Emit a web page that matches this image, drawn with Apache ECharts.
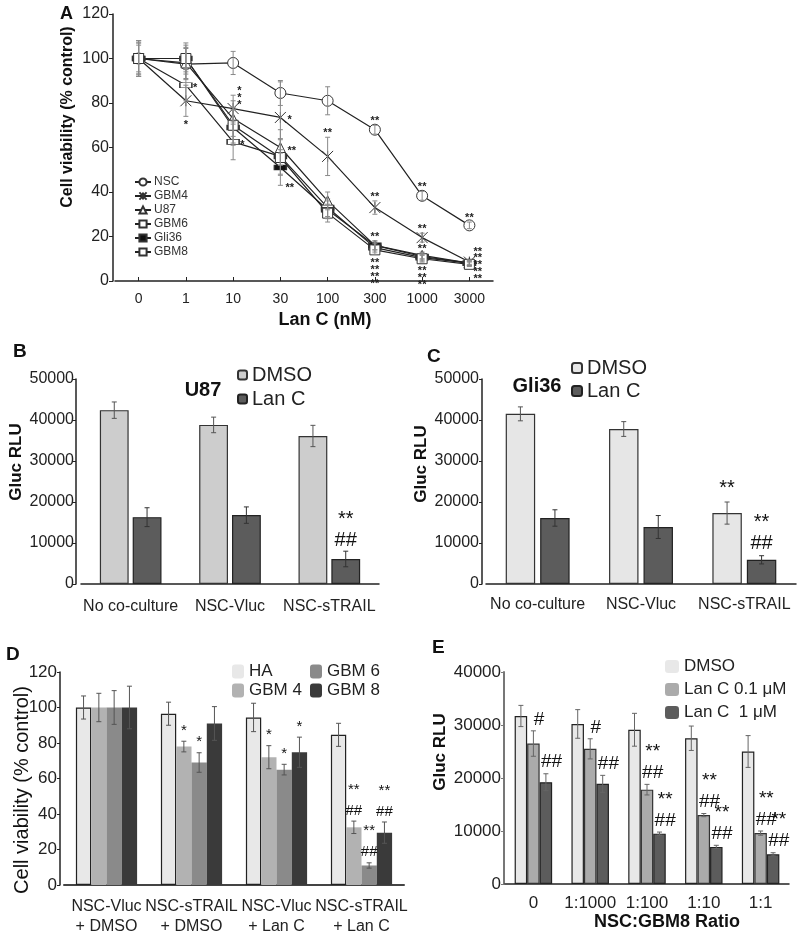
<!DOCTYPE html>
<html><head><meta charset="utf-8">
<script src="https://cdn.jsdelivr.net/npm/echarts@6/dist/echarts.min.js"></script>
<style>html,body{margin:0;padding:0;background:#fff}#c{width:800px;height:937px}</style>
</head><body><div id="c"></div>
<script>
// ---------- Panel A data ----------
const doseCats = ['0','1','10','30','100','300','1000','3000'];
const cellLines = ['NSC','GBM4','U87','GBM6','Gli36','GBM8'];
const vNSC  = [100, 97.5, 98, 84.5, 81, 68, 38.3, 25];
const vGBM4 = [100, 81, 77.5, 73.5, 56, 33, 19.5, 8.5];
const vU87  = [100, 98, 73, 60, 36, 16, 11.5, 8];
const vGBM6 = [100, 88, 62.5, 56, 33, 15, 10.5, 8];
const vGli36= [100, 100, 69, 51, 32, 16, 11, 8];
const vGBM8 = [100, 100, 70, 55.5, 30.5, 14, 10, 7.5];
const eNSC  = [7, 7, 5.2, 5.6, 6.3, 2, 2, 1.5];
const eGBM4 = [7, 7, 6, 16, 8.6, 3, 2, 1];
const eU87  = [8, 7, 8, 8, 4, 2, 1.5, 1];
const eGBM6 = [8, 7, 8, 8, 4, 2, 1.5, 1];
const eGli36= [6, 6, 8, 8, 4, 2, 1.5, 1];
const eGBM8 = [8, 7, 8, 8, 4, 2, 1.5, 1];
// annotations: [series, dose, text, placement]
const annA = [
  ['GBM6','1','*','right'], ['GBM4','1','*','bottom'],
  ['GBM4','10','*\n*\n*','topRight'], ['GBM6','10','*','right'],
  ['GBM4','30','*','right'], ['U87','30','**','right'], ['Gli36','30','**','bottomRight'],
  ['GBM4','100','**','top'],
  ['NSC','300','**','top'], ['GBM4','300','**','top'], ['Gli36','300','**','top'], ['GBM8','300','**\n**\n**\n**','bottom'],
  ['NSC','1000','**','top'], ['GBM4','1000','**','top'], ['Gli36','1000','**','top'], ['GBM8','1000','**\n**\n**','bottom'],
  ['NSC','3000','**','top'], ['GBM8','3000','**\n**\n**\n**\n**','topRight']
];

// ---------- Panel B (U87) ----------
const bcCats = ['No co-culture','NSC-Vluc','NSC-sTRAIL'];
const bDMSO = [42400, 38800, 36100];
const bDMSOerr = [2000, 1900, 2600];
const bLanC = [16300, 16800, 6100];
const bLanCerr = [2300, 2000, 1900];
const bAnnDMSO = ['', '', ''];
const bAnnLanC = ['', '', '**\n##'];

// ---------- Panel C (Gli36) ----------
const cDMSO = [41500, 37800, 17300];
const cDMSOerr = [1700, 1800, 2700];
const cLanC = [16100, 13900, 5900];
const cLanCerr = [2000, 2800, 1000];
const cAnnDMSO = ['', '', '**'];
const cAnnLanC = ['', '', '**\n##'];

// ---------- Panel D ----------
const dCats = ['NSC-Vluc\n+ DMSO','NSC-sTRAIL\n+ DMSO','NSC-Vluc\n+ Lan C','NSC-sTRAIL\n+ Lan C'];
const dHA   = [100, 96.5, 94.4, 84.6];
const dGBM4 = [100, 78, 72, 32.5];
const dGBM6 = [100, 69, 65, 11];
const dGBM8 = [100, 91, 74.8, 29.5];
const dHAerr   = [6.5, 6.5, 8, 6.5];
const dGBM4err = [8, 3, 6.5, 3.5];
const dGBM6err = [9.5, 5.5, 3, 1.5];
const dGBM8err = [12, 9.5, 8.5, 6];
const dAnnGBM4 = ['', '*', '*', '**\n##'];
const dAnnGBM6 = ['', '*', '*', '**\n##'];
const dAnnGBM8 = ['', '', '*', '**\n##'];

// ---------- Panel E ----------
const eCats = ['0','1:1000','1:100','1:10','1:1'];
const eDMSO = [31700, 30200, 29100, 27500, 25000];
const eLow  = [26500, 25500, 17800, 13000, 9600];
const eHigh = [19200, 18900, 9500, 7000, 5600];
const eDMSOerr = [2000, 2700, 3100, 2300, 3000];
const eLowErr  = [2400, 1900, 1000, 300, 400];
const eHighErr = [1600, 1600, 300, 300, 300];
const eAnnLow  = ['#', '#', '**\n##', '**\n##', '**\n##'];
const eAnnHigh = ['##', '##', '**\n##', '**\n##', '**\n##'];

// ---------- helpers ----------
const FF = 'Arial, "Liberation Sans", Helvetica, sans-serif';
function errSeries(ax, vals, errs, off, color, lw, cap) {
  return {
    type: 'custom', xAxisIndex: ax, yAxisIndex: ax, silent: true, z: 6,
    data: vals.map((v, i) => [i, v, errs[i]]),
    renderItem(params, api) {
      const i = api.value(0), v = api.value(1), e = api.value(2);
      const band = api.size([1, 0])[0];
      const p1 = api.coord([i, v + e]), p2 = api.coord([i, v - e]);
      const x = p1[0] + off * band;
      const st = { stroke: color, lineWidth: lw };
      return { type: 'group', children: [
        { type: 'line', shape: { x1: x, y1: p1[1], x2: x, y2: p2[1] }, style: st },
        { type: 'line', shape: { x1: x - cap, y1: p1[1], x2: x + cap, y2: p1[1] }, style: st },
        { type: 'line', shape: { x1: x - cap, y1: p2[1], x2: x + cap, y2: p2[1] }, style: st }
      ]};
    }
  };
}
function barAnn(ax, vals, errs, texts, off, font, gap, pad) {
  return {
    type: 'custom', xAxisIndex: ax, yAxisIndex: ax, silent: true, z: 10,
    data: vals.map((v, i) => [i, v + errs[i], i]),
    renderItem(params, api) {
      const t = texts[api.value(2)];
      if (!t) return;
      const band = api.size([1, 0])[0];
      const p = api.coord([api.value(0), api.value(1)]);
      const x = p[0] + off * band;
      const lines = t.split('\n');
      return { type: 'group', children: lines.map((ln, k) => ({
        type: 'text',
        style: { text: ln, x: x, y: p[1] - pad - (lines.length - 1 - k) * gap,
          align: 'center', verticalAlign: 'bottom', font: font, fill: '#111' }
      }))};
    }
  };
}
const seriesVals = { NSC: vNSC, GBM4: vGBM4, U87: vU87, GBM6: vGBM6, Gli36: vGli36, GBM8: vGBM8 };
const seriesErrs = { NSC: eNSC, GBM4: eGBM4, U87: eU87, GBM6: eGBM6, Gli36: eGli36, GBM8: eGBM8 };
const annASeries = {
  type: 'custom', xAxisIndex: 0, yAxisIndex: 0, silent: true, z: 10,
  data: annA.map((a, k) => {
    const ci = doseCats.indexOf(a[1]);
    return [ci, seriesVals[a[0]][ci], seriesErrs[a[0]][ci], k];
  }),
  renderItem(params, api) {
    const a = annA[api.value(3)];
    const ci = api.value(0), v = api.value(1), e = api.value(2);
    const p = api.coord([ci, v]);
    const pt = api.coord([ci, v + e]);
    const pb = api.coord([ci, v - e]);
    const lines = a[2].split('\n');
    const step = 6.8;
    let x = p[0], y0, align = 'center';
    if (a[3] === 'top') { y0 = pt[1] - 4 - (lines.length - 1) * step; }
    else if (a[3] === 'bottom') { y0 = pb[1] + 9; }
    else if (a[3] === 'right') { x = p[0] + 7; align = 'left'; y0 = p[1] + 3 - (lines.length - 1) * step / 2; }
    else if (a[3] === 'topRight') { x = p[0] + 4; align = 'left'; y0 = pt[1] + 3 - (lines.length - 1) * step / 2; }
    else if (a[3] === 'bottomRight') { x = p[0] + 5; align = 'left'; y0 = pb[1] + 3; }
    return { type: 'group', children: lines.map((ln, k) => ({
      type: 'text',
      style: { text: ln, x: x, y: y0 + k * step, align: align, verticalAlign: 'middle',
        font: 'bold 11px ' + FF, fill: '#222' }
    }))};
  }
};
const symA = {
  NSC: { symbol: 'circle', size: 11, fill: '#fff' },
  GBM4: { symbol: 'path://M0,0L10,10M10,0L0,10M5,0L5,10', size: 11, fill: '#fff' },
  U87: { symbol: 'triangle', size: 10, fill: '#fff' },
  GBM6: { symbol: 'rect', size: [12, 5], fill: '#fff' },
  Gli36: { symbol: 'rect', size: [12, 5], fill: '#111' },
  GBM8: { symbol: 'rect', size: 10, fill: '#fff' }
};

const series = [];
// Panel A error bars then lines
cellLines.forEach(n => series.push(errSeries(0, seriesVals[n], seriesErrs[n], 0, '#8a8a8a', 1, 2.5)));
cellLines.forEach(n => series.push({
  type: 'line', name: n, xAxisIndex: 0, yAxisIndex: 0, data: seriesVals[n],
  symbol: symA[n].symbol, symbolSize: symA[n].size, showSymbol: true, symbolKeepAspect: false,
  lineStyle: { color: '#222', width: 1.2 },
  itemStyle: { color: symA[n].fill, borderColor: '#333', borderWidth: 1 },
  z: 4, animation: false
}));
series.push(annASeries);

// Panel B
const bW = '29%', bGap = '14%';
series.push({ type: 'bar', name: 'DMSO', xAxisIndex: 1, yAxisIndex: 1, data: bDMSO, barWidth: bW, barGap: bGap,
  itemStyle: { color: '#cdcdcd', borderColor: '#333', borderWidth: 1.2 } });
series.push({ type: 'bar', name: 'Lan C', xAxisIndex: 1, yAxisIndex: 1, data: bLanC, barWidth: bW, barGap: bGap,
  itemStyle: { color: '#5c5c5c', borderColor: '#222', borderWidth: 1.2 } });
series.push(errSeries(1, bDMSO, bDMSOerr, -0.165, '#555', 1, 2.5));
series.push(errSeries(1, bLanC, bLanCerr, 0.165, '#333', 1, 2.5));
series.push(barAnn(1, bDMSO, bDMSOerr, bAnnDMSO, -0.165, '20px ' + FF, 22, 1));
series.push(barAnn(1, bLanC, bLanCerr, bAnnLanC, 0.165, '20px ' + FF, 21, 1));

// Panel C
const cW = '28.5%', cGap = '17%';
series.push({ type: 'bar', name: 'C_DMSO', xAxisIndex: 2, yAxisIndex: 2, data: cDMSO, barWidth: cW, barGap: cGap,
  itemStyle: { color: '#e6e6e6', borderColor: '#333', borderWidth: 1.2 } });
series.push({ type: 'bar', name: 'C_Lan C', xAxisIndex: 2, yAxisIndex: 2, data: cLanC, barWidth: cW, barGap: cGap,
  itemStyle: { color: '#5c5c5c', borderColor: '#222', borderWidth: 1.2 } });
series.push(errSeries(2, cDMSO, cDMSOerr, -0.167, '#555', 1, 2.5));
series.push(errSeries(2, cLanC, cLanCerr, 0.167, '#333', 1, 2.5));
series.push(barAnn(2, cDMSO, cDMSOerr, cAnnDMSO, -0.167, '20px ' + FF, 22, 4));
series.push(barAnn(2, cLanC, cLanCerr, cAnnLanC, 0.167, '20px ' + FF, 21, 2));

// Panel D
const dW = '18%';
const dSer = [['HA', dHA, dHAerr, '#e8e8e8', '#222', 1.2, null],
              ['GBM 4', dGBM4, dGBM4err, '#b2b2b2', '#b2b2b2', 0, dAnnGBM4],
              ['GBM 6', dGBM6, dGBM6err, '#8a8a8a', '#8a8a8a', 0, dAnnGBM6],
              ['GBM 8', dGBM8, dGBM8err, '#3a3a3a', '#3a3a3a', 0, dAnnGBM8]];
dSer.forEach((s, k) => {
  const off = (k - 1.5) * 0.18;
  series.push({ type: 'bar', name: s[0], xAxisIndex: 3, yAxisIndex: 3, data: s[1], barWidth: dW, barGap: '0%',
    itemStyle: { color: s[3], borderColor: s[4], borderWidth: s[5] } });
  series.push(errSeries(3, s[1], s[2], off, '#555', 1, 2.5));
  if (s[6]) series.push(barAnn(3, s[1], s[2], s[6], off, '15px ' + FF, 21, 3));
});

// Panel E
const eW = '22%';
const eSer = [['E_DMSO', eDMSO, eDMSOerr, '#e8e8e8', '#222', null],
              ['E_Lan C 0.1 μM', eLow, eLowErr, '#ababab', '#333', eAnnLow],
              ['E_Lan C  1 μM', eHigh, eHighErr, '#5c5c5c', '#222', eAnnHigh]];
eSer.forEach((s, k) => {
  const off = (k - 1) * 0.22;
  series.push({ type: 'bar', name: s[0], xAxisIndex: 4, yAxisIndex: 4, data: s[1], barWidth: eW, barGap: '0%',
    itemStyle: { color: s[3], borderColor: s[4], borderWidth: 1.2 } });
  series.push(errSeries(4, s[1], s[2], off, '#666', 1, 2.5));
  if (s[5]) series.push(barAnn(4, s[1], s[2], s[5], off + 0.1, '19px ' + FF, 21, 2));
});

const axLine = (w, c) => ({ show: true, lineStyle: { color: c || '#222', width: w } });
const plain = v => String(v);
const lbl = (fs, m, extra) => Object.assign({ fontSize: fs, color: '#222', margin: m, fontFamily: FF }, extra || {});
const stripName = n => n.replace(/^[A-Z]_/, '');

const option = {
  animation: false,
  textStyle: { fontFamily: FF },
  grid: [
    { left: 115, top: 14, width: 378, height: 267 },
    { left: 81, top: 379, width: 298, height: 205 },
    { left: 486, top: 379, width: 310, height: 205 },
    { left: 64, top: 672, width: 340, height: 213 },
    { left: 505, top: 672, width: 284, height: 212 }
  ],
  xAxis: [
    { gridIndex: 0, type: 'category', data: doseCats, offset: 3, axisLine: axLine(1.5),
      axisTick: { show: true, inside: true, alignWithLabel: true, length: 4, lineStyle: { color: '#222' } },
      axisLabel: lbl(14, 8, { interval: 0 }) },
    { gridIndex: 1, type: 'category', data: bcCats, offset: 5, axisLine: axLine(1.5), axisTick: { show: false },
      axisLabel: lbl(16, 10, { interval: 0 }) },
    { gridIndex: 2, type: 'category', data: bcCats, offset: 7, axisLine: axLine(1.5), axisTick: { show: false },
      axisLabel: lbl(16, 6, { interval: 0 }) },
    { gridIndex: 3, type: 'category', data: dCats, offset: 3, axisLine: axLine(2, '#444'), axisTick: { show: false },
      axisLabel: lbl(16, 9, { interval: 0, lineHeight: 20 }) },
    { gridIndex: 4, type: 'category', data: eCats, offset: 3, axisLine: axLine(1.5), axisTick: { show: false },
      axisLabel: lbl(17, 8, { interval: 0 }) }
  ],
  yAxis: [
    { gridIndex: 0, type: 'value', min: 0, max: 120, interval: 20, offset: 2, axisLine: axLine(1.5),
      axisTick: { show: true, length: 4, lineStyle: { color: '#222' } }, splitLine: { show: false },
      axisLabel: lbl(16, 4, { formatter: plain }) },
    { gridIndex: 1, type: 'value', min: 0, max: 50000, interval: 10000, offset: 5, axisLine: axLine(1.5),
      axisTick: { show: true, length: 3, lineStyle: { color: '#222' } }, splitLine: { show: false },
      axisLabel: lbl(16, 2, { formatter: plain }) },
    { gridIndex: 2, type: 'value', min: 0, max: 50000, interval: 10000, offset: 4, axisLine: axLine(1.5),
      axisTick: { show: true, length: 3, lineStyle: { color: '#222' } }, splitLine: { show: false },
      axisLabel: lbl(16, 3, { formatter: plain }) },
    { gridIndex: 3, type: 'value', min: 0, max: 120, interval: 20, offset: 4, axisLine: axLine(1.5),
      axisTick: { show: true, length: 3, lineStyle: { color: '#222' } }, splitLine: { show: false },
      axisLabel: lbl(17, 3, { formatter: plain }) },
    { gridIndex: 4, type: 'value', min: 0, max: 40000, interval: 10000, offset: 1, axisLine: axLine(2, '#777'),
      axisTick: { show: true, length: 3, lineStyle: { color: '#777' } }, splitLine: { show: false },
      axisLabel: lbl(17, 3, { formatter: plain }) }
  ],
  legend: [
    { data: cellLines, left: 134, top: 176, orient: 'vertical', itemWidth: 16, itemHeight: 9, itemGap: 2,
      selectedMode: false, padding: 0, textStyle: { fontSize: 12, color: '#333', padding: [0, 0, 0, -2] } },
    { data: ['DMSO', 'Lan C'], left: 237, top: 365, orient: 'vertical', itemWidth: 9, itemHeight: 9, itemGap: 4,
      selectedMode: false, padding: 0, textStyle: { fontSize: 20, color: '#222' } },
    { data: ['C_DMSO', 'C_Lan C'], left: 571, top: 358, orient: 'vertical', itemWidth: 10, itemHeight: 10, itemGap: 3,
      selectedMode: false, padding: 0, formatter: stripName, textStyle: { fontSize: 20, color: '#222' } },
    { data: ['HA', 'GBM 4'], left: 232, top: 663, orient: 'vertical', itemWidth: 12, itemHeight: 14, itemGap: 2,
      selectedMode: false, padding: 0, itemStyle: { borderWidth: 0 }, textStyle: { fontSize: 17, color: '#222' } },
    { data: ['GBM 6', 'GBM 8'], left: 310, top: 663, orient: 'vertical', itemWidth: 12, itemHeight: 14, itemGap: 2,
      selectedMode: false, padding: 0, itemStyle: { borderWidth: 0 }, textStyle: { fontSize: 17, color: '#222' } },
    { data: ['E_DMSO', 'E_Lan C 0.1 μM', 'E_Lan C  1 μM'], left: 665, top: 658, orient: 'vertical',
      itemWidth: 14, itemHeight: 13, itemGap: 6, selectedMode: false, padding: 0, formatter: stripName,
      itemStyle: { borderWidth: 0 }, textStyle: { fontSize: 17, color: '#222' } }
  ],
  graphic: [
    { type: 'text', x: 60, y: 14, style: { text: 'A', font: 'bold 18px ' + FF, fill: '#111', verticalAlign: 'middle' } },
    { type: 'text', x: 13, y: 352, style: { text: 'B', font: 'bold 19px ' + FF, fill: '#111', verticalAlign: 'middle' } },
    { type: 'text', x: 427, y: 357, style: { text: 'C', font: 'bold 19px ' + FF, fill: '#111', verticalAlign: 'middle' } },
    { type: 'text', x: 6, y: 655, style: { text: 'D', font: 'bold 19px ' + FF, fill: '#111', verticalAlign: 'middle' } },
    { type: 'text', x: 432, y: 648, style: { text: 'E', font: 'bold 19px ' + FF, fill: '#111', verticalAlign: 'middle' } },
    { type: 'text', x: 68, y: 117, rotation: Math.PI / 2,
      style: { text: 'Cell viability (% control)', font: 'bold 16px ' + FF, fill: '#111', align: 'center', verticalAlign: 'middle' } },
    { type: 'text', x: 325, y: 320,
      style: { text: 'Lan C (nM)', font: 'bold 18px ' + FF, fill: '#111', align: 'center', verticalAlign: 'middle' } },
    { type: 'text', x: 16, y: 462, rotation: Math.PI / 2,
      style: { text: 'Gluc RLU', font: 'bold 17px ' + FF, fill: '#111', align: 'center', verticalAlign: 'middle' } },
    { type: 'text', x: 421, y: 464, rotation: Math.PI / 2,
      style: { text: 'Gluc RLU', font: 'bold 17px ' + FF, fill: '#111', align: 'center', verticalAlign: 'middle' } },
    { type: 'text', x: 22, y: 790, rotation: Math.PI / 2,
      style: { text: 'Cell viability (% control)', font: '20px ' + FF, fill: '#111', align: 'center', verticalAlign: 'middle' } },
    { type: 'text', x: 440, y: 752, rotation: Math.PI / 2,
      style: { text: 'Gluc RLU', font: 'bold 17px ' + FF, fill: '#111', align: 'center', verticalAlign: 'middle' } },
    { type: 'text', x: 667, y: 922,
      style: { text: 'NSC:GBM8 Ratio', font: 'bold 18px ' + FF, fill: '#111', align: 'center', verticalAlign: 'middle' } },
    { type: 'text', x: 203, y: 390,
      style: { text: 'U87', font: 'bold 20px ' + FF, fill: '#111', align: 'center', verticalAlign: 'middle' } },
    { type: 'text', x: 537, y: 386,
      style: { text: 'Gli36', font: 'bold 20px ' + FF, fill: '#111', align: 'center', verticalAlign: 'middle' } }
  ],
  series: series
};
const chart = echarts.init(document.getElementById('c'), null, { renderer: 'canvas' });
chart.setOption(option);
</script></body></html>
